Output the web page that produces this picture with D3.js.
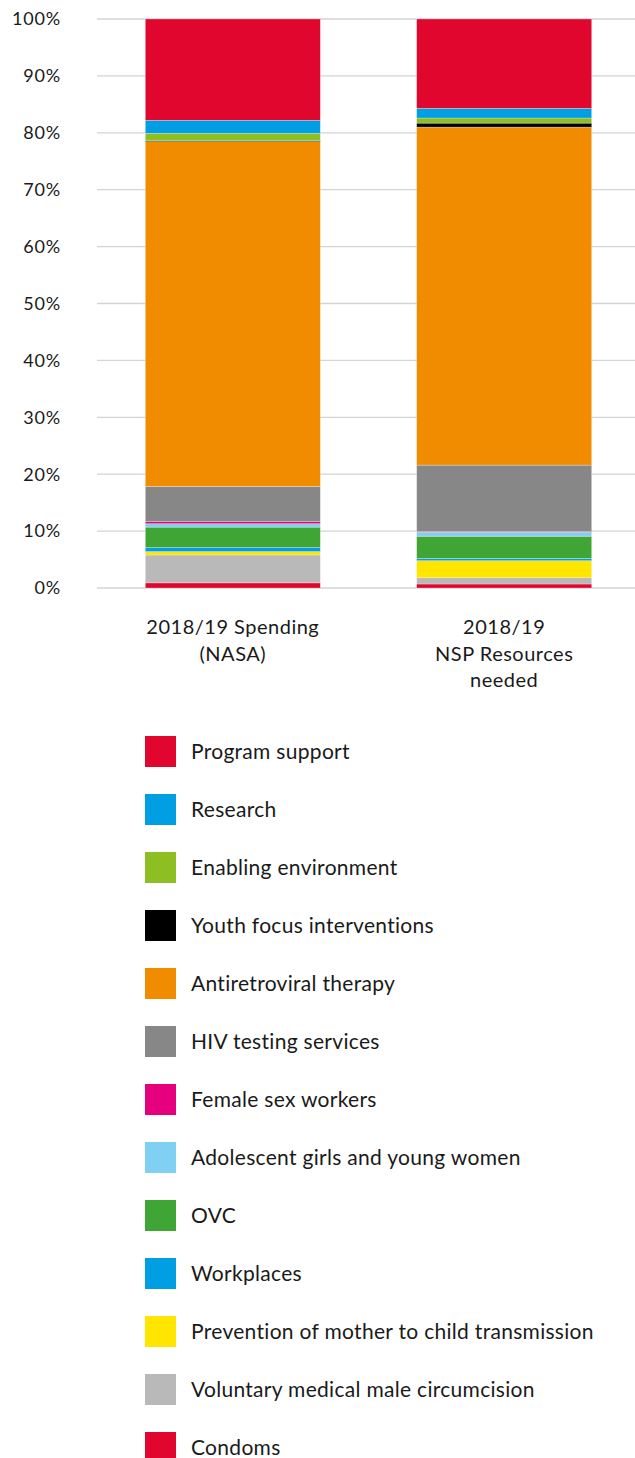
<!DOCTYPE html>
<html>
<head>
<meta charset="utf-8">
<script src="https://cdn.jsdelivr.net/npm/d3@7"></script>
<style>
  html, body { margin: 0; padding: 0; background: #fff; }
  svg { display: block; font-family: Lato, "Open Sans", sans-serif; }
</style>
</head>
<body>
<svg id="chart" width="635" height="1458"></svg>
<script>
// Funding categories, bottom of the stack first
const categories = [
  "Condoms",
  "Voluntary medical male circumcision",
  "Prevention of mother to child transmission",
  "Workplaces",
  "OVC",
  "Adolescent girls and young women",
  "Female sex workers",
  "HIV testing services",
  "Antiretroviral therapy",
  "Youth focus interventions",
  "Enabling environment",
  "Research",
  "Program support"
];

const colors = [
  "#e0062e", "#b9b9b9", "#ffe500", "#009fe3", "#3fa535", "#80d0f4",
  "#e6007e", "#878787", "#f18c00", "#000000", "#8dbf22", "#009fe3", "#e0062e"
];

const columns = [
  ["2018/19 Spending", "(NASA)"],
  ["2018/19", "NSP Resources", "needed"]
];

// Share of total (%) per category, same order as `categories`
const spending2018 = [0.9, 4.9, 0.6, 0.7, 3.6, 0.6, 0.35, 6.2, 60.6, 0.15, 1.3, 2.3, 17.8];
const nspNeeded2018 = [0.7, 1.1, 3.0, 0.4, 3.9, 0.7, 0.1, 11.7, 59.4, 0.7, 0.9, 1.7, 15.7];

const yTicks = [0, 10, 20, 30, 40, 50, 60, 70, 80, 90, 100];

const svg = d3.select("#chart");

const x = d3.scaleBand()
  .domain([0, 1])
  .range([97, 640])
  .paddingInner(0.355)
  .paddingOuter(0.178);

const y = d3.scaleLinear().domain([0, 100]).range([588, 19]);

// gridlines
svg.append("g")
  .selectAll("line")
  .data(yTicks)
  .join("line")
  .attr("x1", 97).attr("x2", 635)
  .attr("y1", d => y(d)).attr("y2", d => y(d))
  .attr("stroke", "#d4d4d4")
  .attr("stroke-width", 1.3);

// y-axis labels
svg.append("g")
  .selectAll("text")
  .data(yTicks)
  .join("text")
  .attr("x", 61)
  .attr("y", d => y(d))
  .attr("dy", "0.35em")
  .attr("text-anchor", "end")
  .attr("font-size", 18)
  .attr("letter-spacing", 0.8)
  .attr("fill", "#1a1a1a")
  .text(d => d + "%");

// stacked bars
const table = categories.map((c, i) => ({ key: i, 0: spending2018[i], 1: nspNeeded2018[i] }));
const series = [0, 1].map(col => {
  let acc = 0;
  return table.map(r => {
    const s = { col, key: r.key, y0: acc, y1: acc + r[col] };
    acc += r[col];
    return s;
  });
});

svg.append("g")
  .selectAll("g")
  .data(series)
  .join("g")
  .selectAll("rect")
  .data(d => d)
  .join("rect")
  .attr("x", d => x(d.col))
  .attr("width", x.bandwidth())
  .attr("y", d => y(d.y1))
  .attr("height", d => y(d.y0) - y(d.y1))
  .attr("fill", d => colors[d.key])
  .attr("stroke", "rgba(255,255,255,0.45)")
  .attr("stroke-width", 0.6);

// column labels
const colLabels = svg.append("g")
  .selectAll("text")
  .data(columns)
  .join("text")
  .attr("x", (d, i) => x(i) + x.bandwidth() / 2)
  .attr("y", 634)
  .attr("text-anchor", "middle")
  .attr("font-size", 20)
  .attr("letter-spacing", 0.5)
  .attr("fill", "#1a1a1a");
colLabels.selectAll("tspan")
  .data(d => d)
  .join("tspan")
  .attr("x", function () { return d3.select(this.parentNode).attr("x"); })
  .attr("dy", (d, i) => i === 0 ? 0 : 26.5)
  .text(d => d);

// legend, top of the stack first
const legendOrder = d3.range(categories.length).reverse();
const legend = svg.append("g")
  .selectAll("g")
  .data(legendOrder)
  .join("g")
  .attr("transform", (d, i) => `translate(145, ${736 + i * 58})`);

legend.append("rect")
  .attr("width", 31)
  .attr("height", 31)
  .attr("fill", d => colors[d]);

legend.append("text")
  .attr("x", 46)
  .attr("y", 15.5)
  .attr("dy", "0.35em")
  .attr("font-size", 21)
  .attr("letter-spacing", 0.3)
  .attr("fill", "#1a1a1a")
  .text(d => categories[d]);
</script>
</body>
</html>
